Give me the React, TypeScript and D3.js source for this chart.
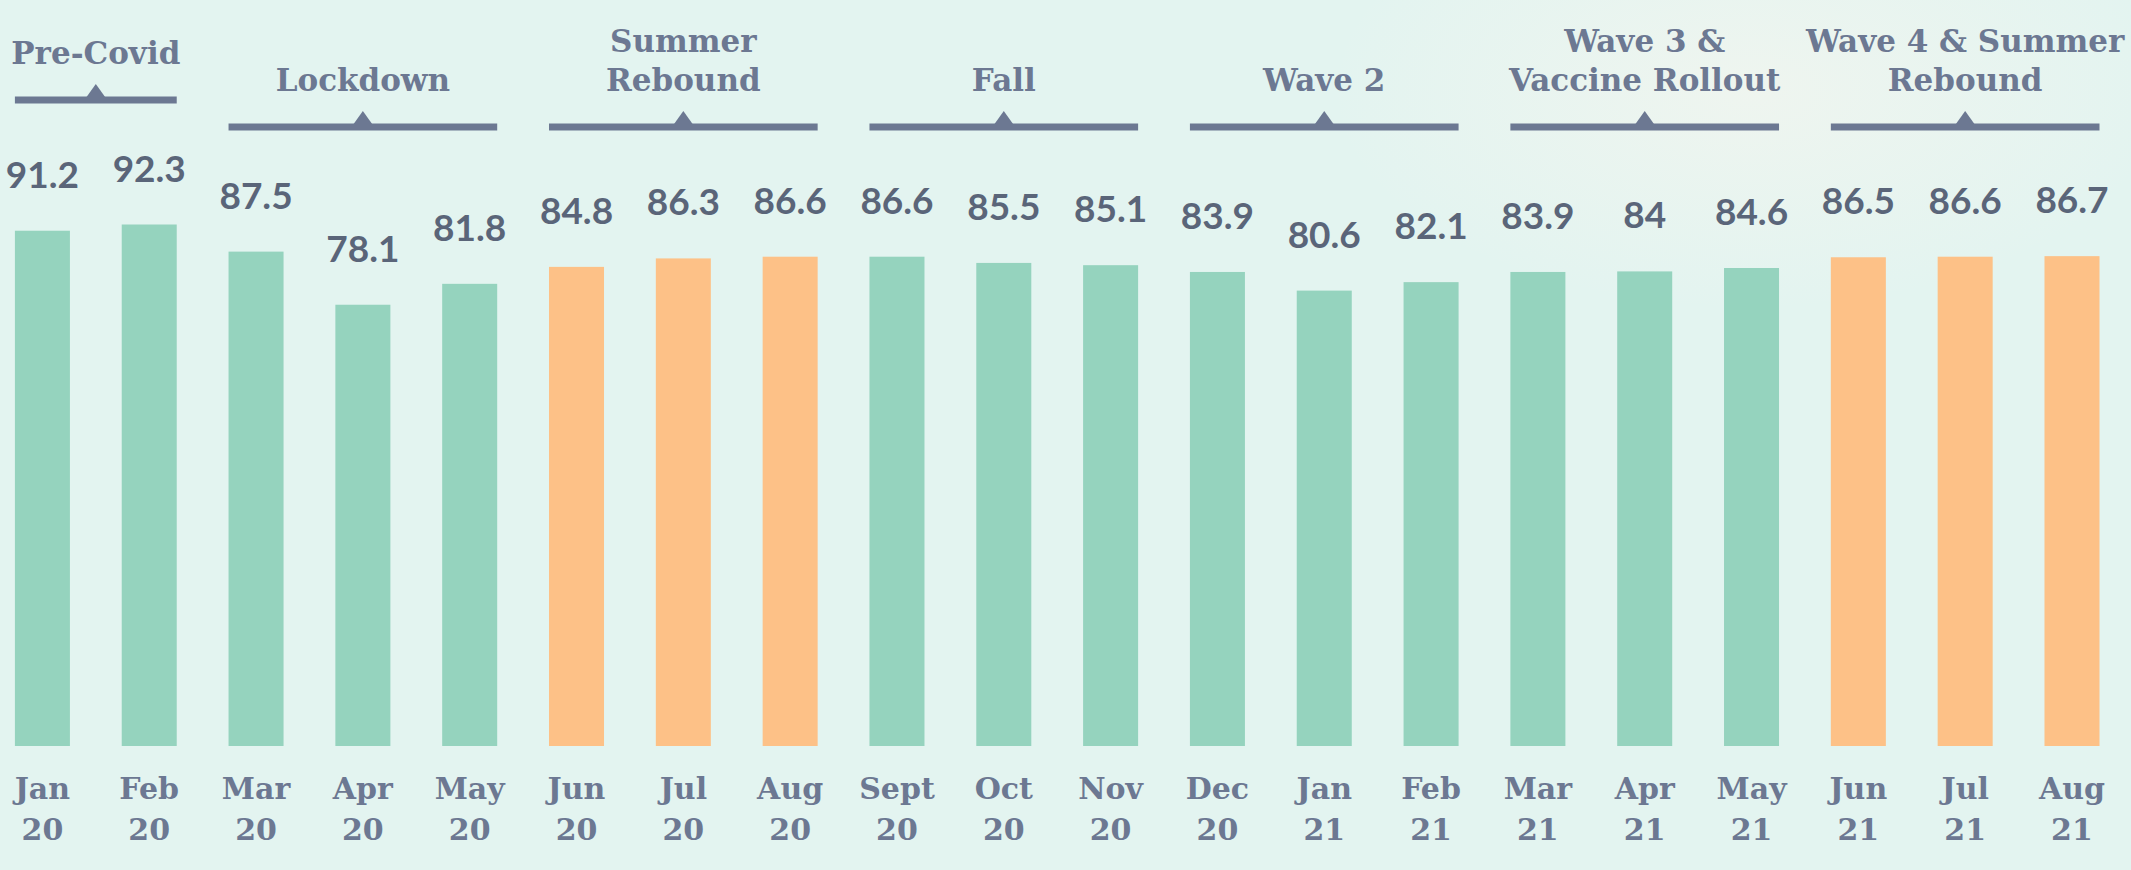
import { useEffect, useRef } from 'react'
import * as d3 from 'd3'

// monthly index values
const months = ['Jan', 'Feb', 'Mar', 'Apr', 'May', 'Jun', 'Jul', 'Aug', 'Sept', 'Oct', 'Nov', 'Dec',
  'Jan', 'Feb', 'Mar', 'Apr', 'May', 'Jun', 'Jul', 'Aug']
const years = ['20', '20', '20', '20', '20', '20', '20', '20', '20', '20', '20', '20',
  '21', '21', '21', '21', '21', '21', '21', '21']
const values = [91.2, 92.3, 87.5, 78.1, 81.8, 84.8, 86.3, 86.6, 86.6, 85.5, 85.1, 83.9,
  80.6, 82.1, 83.9, 84, 84.6, 86.5, 86.6, 86.7]
const seasons = ['other', 'other', 'other', 'other', 'other', 'summer', 'summer', 'summer',
  'other', 'other', 'other', 'other', 'other', 'other', 'other', 'other', 'other',
  'summer', 'summer', 'summer']

// phase groups: label lines, first and last bar index
const groupLabels = [['Pre-Covid'], ['Lockdown'], ['Summer', 'Rebound'], ['Fall'], ['Wave 2'],
  ['Wave 3 &', 'Vaccine Rollout'], ['Wave 4 & Summer', 'Rebound']]
const groupStart = [0, 2, 5, 8, 11, 14, 17]
const groupEnd = [1, 4, 7, 10, 13, 16, 19]

export default function App() {
  const svgRef = useRef<SVGSVGElement>(null)
  const width = 2131
  const height = 870

  useEffect(() => {
    if (!svgRef.current) return
    document.body.style.margin = '0'
    const svg = d3.select(svgRef.current)
    svg.selectAll('*').remove()

    const slate = '#6c7892'
    const valueInk = '#5a6579'
    const serif = '"DejaVu Serif", serif'

    // background
    const defs = svg.append('defs')
    const glow = defs.append('radialGradient').attr('id', 'glow')
      .attr('cx', '0.5').attr('cy', '0.5').attr('r', '0.5')
    glow.append('stop').attr('offset', '0%').attr('stop-color', '#f0f5ef').attr('stop-opacity', 0.9)
    glow.append('stop').attr('offset', '100%').attr('stop-color', '#f0f5ef').attr('stop-opacity', 0)
    svg.append('rect').attr('width', width).attr('height', height).attr('fill', '#e3f4f0')
    svg.append('ellipse').attr('cx', 1750).attr('cy', 90).attr('rx', 420).attr('ry', 220)
      .attr('fill', 'url(#glow)')

    const idx = d3.range(values.length).map(String)
    const x = d3.scaleBand<string>()
      .domain(idx)
      .range([-11, 2125.4])
      .paddingInner(0.485)
      .paddingOuter(0.2425)

    const y = d3.scaleLinear().domain([0, 100]).range([746, 181])

    const color = d3.scaleOrdinal<string, string>()
      .domain(['other', 'summer'])
      .range(['#95d3be', '#fdc187'])

    // bars
    svg.append('g')
      .selectAll('rect')
      .data(values)
      .enter().append('rect')
      .attr('x', (_, i) => x(String(i))!)
      .attr('y', d => y(d))
      .attr('width', x.bandwidth())
      .attr('height', d => y(0) - y(d))
      .attr('fill', (_, i) => color(seasons[i]))

    // value labels
    svg.append('g')
      .selectAll('text')
      .data(values)
      .enter().append('text')
      .attr('x', (_, i) => x(String(i))! + x.bandwidth() / 2)
      .attr('y', d => y(d) - 43)
      .attr('text-anchor', 'middle')
      .attr('font-family', 'Lato, sans-serif')
      .attr('font-weight', 700)
      .attr('font-size', 37)
      .attr('fill', valueInk)
      .text(d => String(d))

    // month labels
    const monthG = svg.append('g')
      .attr('font-family', serif)
      .attr('font-weight', 700)
      .attr('font-size', 30)
      .attr('fill', slate)
      .attr('text-anchor', 'middle')
    months.forEach((m, i) => {
      const cx = x(String(i))! + x.bandwidth() / 2
      monthG.append('text').attr('x', cx).attr('y', 799).text(m)
      monthG.append('text').attr('x', cx).attr('y', 840).text(years[i])
    })

    // phase brackets
    const groupG = svg.append('g')
    groupLabels.forEach((lines, gi) => {
      const lift = gi === 0 ? 27 : 0
      const x0 = x(String(groupStart[gi]))!
      const x1 = x(String(groupEnd[gi]))! + x.bandwidth()
      const cx = (x0 + x1) / 2
      const ly = 127 - lift
      groupG.append('line')
        .attr('x1', x0).attr('x2', x1)
        .attr('y1', ly).attr('y2', ly)
        .attr('stroke', slate)
        .attr('stroke-width', 7)
      groupG.append('path')
        .attr('d', `M${cx - 10},${ly - 2} L${cx},${ly - 16} L${cx + 10},${ly - 2} Z`)
        .attr('fill', slate)
      const lastBase = 91 - lift
      lines.forEach((t, li) => {
        groupG.append('text')
          .attr('x', cx)
          .attr('y', lastBase - (lines.length - 1 - li) * 39)
          .attr('text-anchor', 'middle')
          .attr('font-family', serif)
          .attr('font-weight', 700)
          .attr('font-size', 31)
          .attr('fill', slate)
          .text(t)
      })
    })
  }, [])

  return (
    <svg ref={svgRef} width={width} height={height}
      style={{ position: 'absolute', left: 0, top: 0, display: 'block' }} />
  )
}
